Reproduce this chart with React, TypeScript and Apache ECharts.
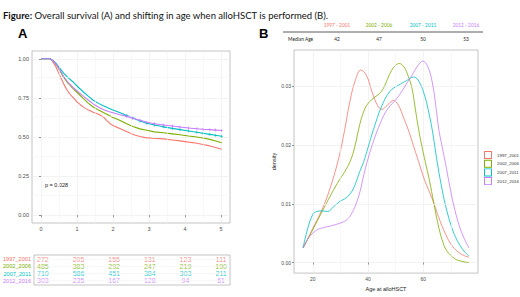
import React, { useEffect, useRef } from 'react';
import * as echarts from 'echarts';

// ---------- data ----------
const groups = ['1997_2001', '2002_2006', '2007_2011', '2012_2016'];
const colors = ['#F8766D', '#7CAE00', '#00BFC4', '#C77CFF'];

const kmXTicks = [0, 1, 2, 3, 4, 5];
const kmYTicks = [0, 0.25, 0.5, 0.75, 1];
const kmMinorX = [0.5, 1.5, 2.5, 3.5, 4.5];
const kmMinorY = [0.125, 0.375, 0.625, 0.875];

const surv1997 = [[0, 1], [0.25, 1], [0.32, 0.985], [0.4, 0.955], [0.48, 0.915], [0.57, 0.87], [0.64, 0.835], [0.71, 0.805], [0.8, 0.775], [0.9, 0.75], [1.0, 0.725], [1.1, 0.705], [1.2, 0.688], [1.32, 0.672], [1.45, 0.658], [1.6, 0.645], [1.73, 0.628], [1.83, 0.605], [1.92, 0.585], [2.05, 0.568], [2.19, 0.555], [2.33, 0.54], [2.47, 0.525], [2.6, 0.513], [2.75, 0.503], [2.9, 0.496], [3.1, 0.492], [3.4, 0.488], [3.65, 0.481], [3.86, 0.475], [4.1, 0.467], [4.33, 0.46], [4.5, 0.452], [4.69, 0.443], [4.85, 0.433], [5.02, 0.422]];
const surv2002 = [[0, 1], [0.25, 1], [0.33, 0.99], [0.42, 0.965], [0.52, 0.925], [0.62, 0.885], [0.75, 0.845], [0.9, 0.808], [1.05, 0.775], [1.18, 0.745], [1.32, 0.715], [1.45, 0.692], [1.6, 0.672], [1.73, 0.656], [1.87, 0.64], [2.0, 0.625], [2.2, 0.605], [2.38, 0.585], [2.55, 0.567], [2.75, 0.552], [2.94, 0.543], [3.15, 0.533], [3.4, 0.527], [3.65, 0.52], [3.86, 0.514], [4.1, 0.506], [4.33, 0.5], [4.5, 0.494], [4.69, 0.485], [4.85, 0.475], [5.02, 0.463]];
const surv2007 = [[0, 1], [0.25, 1], [0.33, 0.99], [0.42, 0.97], [0.52, 0.94], [0.62, 0.91], [0.75, 0.88], [0.9, 0.85], [1.05, 0.815], [1.18, 0.788], [1.32, 0.76], [1.45, 0.735], [1.6, 0.715], [1.73, 0.7], [1.87, 0.685], [2.0, 0.672], [2.2, 0.655], [2.38, 0.638], [2.55, 0.622], [2.75, 0.603], [2.94, 0.588], [3.15, 0.577], [3.4, 0.565], [3.65, 0.555], [3.86, 0.547], [4.1, 0.538], [4.33, 0.53], [4.5, 0.524], [4.69, 0.517], [4.85, 0.511], [5.02, 0.505]];
const surv2012 = [[0, 1], [0.25, 1], [0.33, 0.99], [0.42, 0.965], [0.52, 0.93], [0.62, 0.89], [0.75, 0.85], [0.9, 0.815], [1.05, 0.785], [1.18, 0.76], [1.32, 0.735], [1.45, 0.712], [1.6, 0.69], [1.73, 0.676], [1.87, 0.663], [2.0, 0.655], [2.2, 0.642], [2.38, 0.632], [2.55, 0.62], [2.75, 0.607], [2.94, 0.594], [3.15, 0.585], [3.4, 0.577], [3.65, 0.57], [3.86, 0.564], [4.1, 0.558], [4.33, 0.553], [4.5, 0.55], [4.69, 0.547], [4.85, 0.544], [5.02, 0.542]];
const survData = [surv1997, surv2002, surv2007, surv2012];

const riskTimes = [0, 1, 2, 3, 4, 5];
const risk1997 = [272, 205, 155, 131, 123, 111];
const risk2002 = [485, 383, 292, 247, 219, 190];
const risk2007 = [710, 586, 451, 384, 303, 211];
const risk2012 = [303, 235, 167, 128, 94, 61];
const riskData = [risk1997, risk2002, risk2007, risk2012];
const pValueText = 'p = 0.028';

const periodLabels = ['1997 - 2001', '2002 - 2006', '2007 - 2011', '2012 - 2016'];
const medianAges = [42, 47, 50, 53];

const densXTicks = [20, 40, 60];
const densYTicks = [0, 0.01, 0.02, 0.03];
const densMinorX = [30, 50, 70];
const densMinorY = [0.005, 0.015, 0.025, 0.035];

const dens1997 = [[16.5, 0.0025], [20, 0.0058], [23.6, 0.0093], [26.5, 0.013], [29.5, 0.018], [31.5, 0.0225], [33.5, 0.0276], [35.5, 0.0312], [37.4, 0.0328], [39.5, 0.0318], [41.5, 0.029], [43.5, 0.0267], [45, 0.0261], [47, 0.0268], [49.2, 0.0276], [51, 0.0268], [53, 0.0245], [54.5, 0.0227], [56.5, 0.0198], [58.3, 0.0172], [60.5, 0.014], [63.2, 0.0109], [65.5, 0.0078], [68, 0.0049], [70.5, 0.0028], [73.5, 0.0015], [76.5, 0.0009]];
const dens2002 = [[16.5, 0.0025], [20, 0.0056], [23.5, 0.0088], [26.5, 0.0115], [29.8, 0.0142], [32, 0.0158], [34, 0.0178], [35.3, 0.0199], [37, 0.0235], [38.5, 0.0258], [40, 0.0271], [42.5, 0.0282], [44, 0.0287], [45.6, 0.0297], [47, 0.0312], [48.5, 0.0327], [50, 0.0336], [51.3, 0.0339], [53, 0.0333], [54.5, 0.0318], [55.9, 0.0297], [57, 0.0265], [58.3, 0.0227], [59.5, 0.0198], [60.7, 0.0172], [62.3, 0.0138], [63.7, 0.0104], [65.2, 0.0068], [66.8, 0.0039], [68.5, 0.002], [71.6, 0.0006], [74, 0.0002], [76.5, 0.0]];
const dens2007 = [[16.5, 0.0025], [18, 0.0055], [20, 0.0082], [21.5, 0.0087], [23.2, 0.0088], [25.4, 0.0087], [27.5, 0.0095], [29.8, 0.0104], [32, 0.011], [34, 0.012], [35.5, 0.0135], [37, 0.0155], [38.3, 0.017], [40, 0.0196], [42, 0.0227], [45, 0.0267], [48, 0.0292], [51, 0.0302], [54, 0.031], [56.5, 0.0316], [58.5, 0.0308], [60.7, 0.0281], [62, 0.0255], [63.2, 0.0227], [65, 0.0172], [66.5, 0.0132], [68, 0.0098], [70, 0.0064], [71.6, 0.0044], [74, 0.0024], [76.5, 0.0011]];
const dens2012 = [[16.5, 0.0025], [18.5, 0.0042], [21.3, 0.0055], [23.5, 0.0059], [26.2, 0.0062], [28.5, 0.0065], [31, 0.0069], [32.8, 0.0075], [34, 0.0083], [35.5, 0.0098], [37.1, 0.0121], [38.5, 0.015], [40, 0.0177], [42.2, 0.021], [44.4, 0.0237], [46.2, 0.0255], [48, 0.0267], [49.8, 0.0276], [52, 0.029], [54, 0.0305], [55.9, 0.0319], [58, 0.0335], [59.8, 0.0343], [61.5, 0.0335], [63.2, 0.0308], [64.5, 0.0268], [65.6, 0.0227], [66.8, 0.0198], [68, 0.017], [69.5, 0.0132], [71, 0.0098], [73, 0.0063], [74.8, 0.0041], [76.5, 0.0025]];
const densData = [dens1997, dens2002, dens2007, dens2012];

// ---------- styles ----------
const GG = '"Liberation Sans", Arial, sans-serif';
const CAL = 'Lato, "Open Sans", sans-serif';
const gridLineColor = '#ebebeb';
const frameColor = '#b5b5b5';
const tickColor = '#4d4d4d';
const plusIcon = 'path://M4,0H6V4H10V6H6V10H4V6H0V4H4Z';
const hollowSquare = 'path://M0,0H10V10H0ZM1.2,1.2V8.8H8.8V1.2Z';

function minorLines(xs: number[], ys: number[]) {
  return {
    silent: true,
    symbol: 'none',
    label: { show: false },
    lineStyle: { color: '#f3f3f3', width: 0.6, type: 'solid' },
    data: [...xs.map((v) => ({ xAxis: v })), ...ys.map((v) => ({ yAxis: v }))],
  };
}

export default function App() {
  const ref = useRef<HTMLDivElement>(null);
  useEffect(() => {
    if (!ref.current) return;
    const chart = echarts.init(ref.current, null, { renderer: 'svg' });
    const colMid = [337, 379, 423, 466];
    const option: any = {
      animation: false,
      backgroundColor: '#ffffff',
      textStyle: { fontFamily: GG },
      grid: [
        { left: 32, top: 51, width: 198, height: 172, show: true, borderColor: frameColor, borderWidth: 0.8, backgroundColor: '#fff' },
        { left: 32, top: 255, width: 198, height: 30, show: true, borderColor: frameColor, borderWidth: 0.8, backgroundColor: '#fff' },
        { left: 294, top: 50, width: 184, height: 233, show: true, borderColor: frameColor, borderWidth: 0.8, backgroundColor: '#fff' },
      ],
      xAxis: [
        {
          gridIndex: 0, type: 'value', min: -0.25, max: 5.25,
          axisLine: { show: false },
          axisTick: { show: true, length: 2, customValues: kmXTicks, lineStyle: { color: tickColor, width: 0.6 } },
          axisLabel: { customValues: kmXTicks, fontSize: 5.5, color: tickColor, margin: 3, fontFamily: GG },
          splitLine: { show: true, lineStyle: { color: gridLineColor, width: 0.6 } },
        },
        {
          gridIndex: 1, type: 'value', min: -0.25, max: 5.25,
          axisLine: { show: false }, axisTick: { show: false }, axisLabel: { show: false },
          splitLine: { show: false },
        },
        {
          gridIndex: 2, type: 'value', min: 13.2, max: 79.8,
          axisLine: { show: false },
          axisTick: { show: true, length: 2, customValues: densXTicks, lineStyle: { color: tickColor, width: 0.6 } },
          axisLabel: { customValues: densXTicks, fontSize: 5, color: tickColor, margin: 3, fontFamily: GG },
          splitLine: { show: true, lineStyle: { color: gridLineColor, width: 0.6 } },
          name: 'Age at alloHSCT', nameLocation: 'middle', nameGap: 8,
          nameTextStyle: { fontSize: 5.5, color: '#222', fontFamily: GG },
        },
      ],
      yAxis: [
        {
          gridIndex: 0, type: 'value', min: -0.05, max: 1.05,
          axisLine: { show: false },
          axisTick: { show: true, length: 2, customValues: kmYTicks, lineStyle: { color: tickColor, width: 0.6 } },
          axisLabel: { customValues: kmYTicks, fontSize: 5.5, color: tickColor, margin: 3, fontFamily: GG, formatter: (v: number) => v.toFixed(2) },
          splitLine: { show: true, lineStyle: { color: gridLineColor, width: 0.6 } },
        },
        {
          gridIndex: 1, type: 'value', min: 0.4, max: 4.6, inverse: true,
          axisLine: { show: false }, axisTick: { show: false },
          axisLabel: {
            customValues: [1, 2, 3, 4], margin: 3, fontSize: 5.6, fontFamily: GG,
            formatter: (v: number) => `{g${Math.round(v) - 1}|${groups[Math.round(v) - 1]}}`,
            rich: Object.fromEntries(colors.map((c, i) => [`g${i}`, { color: c, fontSize: 5.6, fontFamily: GG }])),
          },
          splitLine: { show: false },
        },
        {
          gridIndex: 2, type: 'value', min: -0.0018, max: 0.0362,
          axisLine: { show: false },
          axisTick: { show: true, length: 2, customValues: densYTicks, lineStyle: { color: tickColor, width: 0.6 } },
          axisLabel: { customValues: densYTicks, fontSize: 5, color: tickColor, margin: 3, fontFamily: GG, formatter: (v: number) => v.toFixed(2) },
          splitLine: { show: true, lineStyle: { color: gridLineColor, width: 0.6 } },
          name: 'density', nameLocation: 'middle', nameGap: 14, nameRotate: 90,
          nameTextStyle: { fontSize: 5.5, color: '#222', fontFamily: GG },
        },
      ],
      legend: {
        left: 484, top: 151, orient: 'vertical', itemWidth: 8, itemHeight: 8, itemGap: 0.7,
        padding: 0, selectedMode: false, icon: hollowSquare,
        textStyle: { fontSize: 4.4, color: '#333', fontFamily: GG },
        data: groups,
      },
      series: [
        { type: 'line', xAxisIndex: 0, yAxisIndex: 0, data: [], z: 0, markLine: minorLines(kmMinorX, kmMinorY) },
        { type: 'line', xAxisIndex: 1, yAxisIndex: 1, data: [], z: 0, markLine: minorLines([], [1, 2, 3, 4]) },
        { type: 'line', xAxisIndex: 2, yAxisIndex: 2, data: [], z: 0, markLine: minorLines(densMinorX, densMinorY) },
        ...survData.map((d, i) => ({
          name: 'KM ' + groups[i], type: 'line', xAxisIndex: 0, yAxisIndex: 0, data: d,
          color: colors[i], z: 2 + i,
          symbol: plusIcon, showSymbol: i >= 2,
          symbolSize: (v: number[]) => (i >= 2 && v[0] > 2.3 ? 3 : 0),
          lineStyle: { width: 1.1, color: colors[i] },
          itemStyle: { color: colors[i] },
        })),
        ...riskData.map((r, i) => ({
          name: 'risk ' + groups[i], type: 'scatter', xAxisIndex: 1, yAxisIndex: 1,
          data: riskTimes.map((t, j) => [t, i + 1, r[j]]),
          symbolSize: 1, itemStyle: { color: 'rgba(0,0,0,0)' },
          label: { show: true, position: 'inside', formatter: (p: any) => String(p.value[2]), color: colors[i], fontSize: 7, fontFamily: GG },
        })),
        ...densData.map((d, i) => ({
          name: groups[i], type: 'line', xAxisIndex: 2, yAxisIndex: 2, data: d, smooth: 0.4,
          showSymbol: false, color: colors[i], z: 2 + i,
          lineStyle: { width: 0.8, color: colors[i] },
          itemStyle: { color: colors[i] },
        })),
      ],
      graphic: [
        {
          type: 'text', left: 3, top: 10,
          style: {
            text: '{b|Figure:} Overall survival (A) and shifting in age when alloHSCT is performed (B).',
            fontFamily: CAL, fontSize: 9.5, fill: '#111',
            rich: { b: { fontWeight: 'bold', fontFamily: CAL, fontSize: 9.5, fill: '#111' } },
          },
        },
        { type: 'text', left: 18, top: 27, style: { text: 'A', fontFamily: GG, fontWeight: 'bold', fontSize: 13, fill: '#000' } },
        { type: 'text', left: 259, top: 27, style: { text: 'B', fontFamily: GG, fontWeight: 'bold', fontSize: 13, fill: '#000' } },
        { type: 'text', x: 45, y: 185, style: { text: pValueText, fontFamily: GG, fontSize: 5.5, fill: '#1a1a1a', verticalAlign: 'middle' } },
        ...periodLabels.map((t, i) => ({
          type: 'text', x: colMid[i], y: 25,
          style: { text: t, fontFamily: CAL, fontSize: 4.8, fill: colors[i], align: 'center', verticalAlign: 'middle' },
        })),
        { type: 'line', shape: { x1: 283, y1: 32, x2: 483, y2: 32 }, style: { stroke: '#333', lineWidth: 0.8 } },
        { type: 'text', x: 288, y: 38.5, style: { text: 'Median Age', fontFamily: CAL, fontSize: 4.8, fill: '#222', verticalAlign: 'middle' } },
        ...medianAges.map((m, i) => ({
          type: 'text', x: colMid[i], y: 38.5,
          style: { text: String(m), fontFamily: CAL, fontSize: 4.8, fill: '#222', align: 'center', verticalAlign: 'middle' },
        })),
      ],
    };
    chart.setOption(option);
    return () => chart.dispose();
  }, []);
  return <div ref={ref} style={{ position: 'fixed', left: 0, top: 0, width: 520, height: 297 }} />;
}
